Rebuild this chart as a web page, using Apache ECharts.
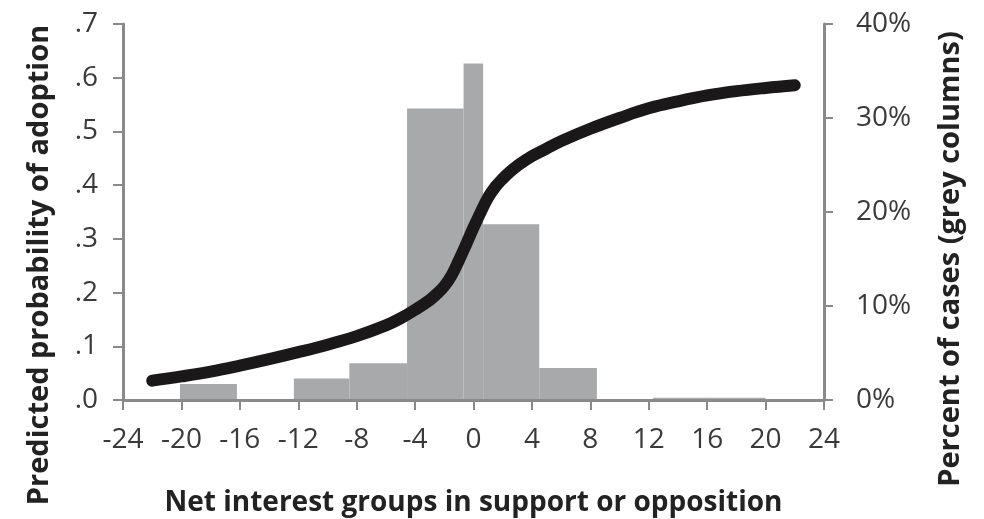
<!DOCTYPE html>
<html>
<head>
<meta charset="utf-8">
<script src="https://cdn.jsdelivr.net/npm/echarts@6/dist/echarts.min.js"></script>
<style>
html,body{margin:0;padding:0;background:#fff;}
#chart{width:984px;height:519px;}
</style>
</head>
<body>
<div id="chart"></div>
<script>
// Histogram bins (net interest groups) and percent of cases
const binStart = [-20.1, -12.3, -8.5, -4.55, -0.68, 0.66, 4.5, 12.3, 16.2];
const binEnd   = [-16.2, -8.5, -4.55, -0.68, 0.66, 4.5, 8.45, 16.2, 20.0];
const binPct   = [1.7, 2.3, 3.9, 31.0, 35.8, 18.7, 3.4, 0.25, 0.25];

// Predicted probability curve
const lineX = [-22, -20, -18, -16, -14, -12, -10, -8, -6, -5, -4, -3, -2.5, -2, -1.5, -1, -0.5, 0, 0.5, 1, 1.5, 2, 2.5, 3, 4, 5, 6, 8, 10, 12, 14, 16, 18, 20, 22];
const lineP = [0.036, 0.044, 0.053, 0.064, 0.076, 0.089, 0.103, 0.119, 0.139, 0.152, 0.168, 0.186, 0.198, 0.212, 0.232, 0.260, 0.290, 0.321, 0.350, 0.377, 0.397, 0.412, 0.425, 0.436, 0.454, 0.468, 0.482, 0.505, 0.525, 0.543, 0.556, 0.567, 0.575, 0.581, 0.586];

// Axis ticks
const xTicks = {min: -24, max: 24, step: 4};
const leftTicks = {min: 0, max: 0.7, step: 0.1};
const rightTicks = {min: 0, max: 40, step: 10};

const xTitle = 'Net interest groups in support or opposition';
const leftTitle = 'Predicted probability of adoption';
const rightTitle = 'Percent of cases (grey columns)';

const FONT = '"Open Sans", "Liberation Sans", sans-serif';
const axisGrey = '#8a8a8a';
const labelColor = '#3a3a3a';

const chart = echarts.init(document.getElementById('chart'), null, {renderer: 'canvas'});

const barData = binStart.map((s, i) => [s, binEnd[i], binPct[i]]);
const lineData = lineX.map((x, i) => [x, lineP[i]]);

const option = {
  animation: false,
  backgroundColor: '#fff',
  grid: {left: 123, right: 160, top: 24, bottom: 119, containLabel: false, outerBoundsMode: 'none'},
  xAxis: {
    type: 'value', min: xTicks.min, max: xTicks.max, interval: xTicks.step,
    z: 5,
    splitLine: {show: false},
    axisLine: {show: true, onZero: false, lineStyle: {color: axisGrey, width: 3}},
    axisTick: {show: true, length: 10, lineStyle: {color: axisGrey, width: 2}},
    axisLabel: {color: labelColor, fontFamily: FONT, fontSize: 28, margin: 26},
    name: xTitle, nameLocation: 'middle', nameGap: 89,
    nameTextStyle: {color: '#222', fontFamily: FONT, fontSize: 28, fontWeight: 'bold'}
  },
  yAxis: [
    {
      type: 'value', min: leftTicks.min, max: leftTicks.max, interval: leftTicks.step,
      position: 'left', z: 5,
      splitLine: {show: false},
      axisLine: {show: true, onZero: false, lineStyle: {color: axisGrey, width: 3}},
      axisTick: {show: true, length: 10, lineStyle: {color: axisGrey, width: 2}},
      axisLabel: {color: labelColor, fontFamily: FONT, fontSize: 28, margin: 25,
        formatter: v => '.' + Math.round(v * 10)}
    },
    {
      type: 'value', min: rightTicks.min, max: rightTicks.max, interval: rightTicks.step,
      position: 'right', z: 5,
      splitLine: {show: false},
      axisLine: {show: true, onZero: false, lineStyle: {color: axisGrey, width: 3}},
      axisTick: {show: true, length: 9, lineStyle: {color: axisGrey, width: 2}},
      axisLabel: {color: labelColor, fontFamily: FONT, fontSize: 28, margin: 32,
        formatter: '{value}%'}
    }
  ],
  graphic: [
    {type: 'text', x: 40, y: 265, rotation: Math.PI / 2,
      style: {text: leftTitle, fill: '#222', font: 'bold 29px ' + FONT, align: 'center', verticalAlign: 'middle'}},
    {type: 'text', x: 951, y: 259, rotation: Math.PI / 2,
      style: {text: rightTitle, fill: '#222', font: 'bold 29px ' + FONT, align: 'center', verticalAlign: 'middle'}}
  ],
  series: [
    {
      type: 'custom', yAxisIndex: 1, z: 1,
      data: barData,
      encode: {x: [0, 1], y: 2},
      renderItem: function (params, api) {
        const p0 = api.coord([api.value(0), 0]);
        const p1 = api.coord([api.value(1), api.value(2)]);
        return {type: 'rect',
          shape: {x: p0[0], y: p1[1], width: p1[0] - p0[0], height: p0[1] - p1[1]},
          style: {fill: '#a7a9ab'}};
      }
    },
    {
      type: 'line', yAxisIndex: 0, z: 10,
      data: lineData, smooth: 0.4, showSymbol: false,
      lineStyle: {color: '#1a1818', width: 12, cap: 'round', join: 'round'}
    }
  ]
};
chart.setOption(option);
</script>
</body>
</html>
